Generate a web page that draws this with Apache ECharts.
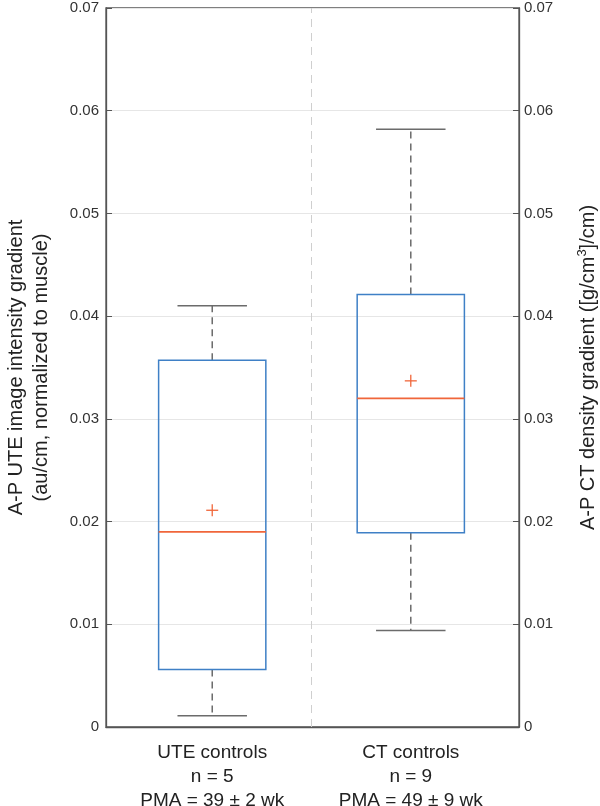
<!DOCTYPE html>
<html>
<head>
<meta charset="utf-8">
<script src="https://cdn.jsdelivr.net/npm/echarts@6/dist/echarts.min.js"></script>
<style>
    html, body { margin: 0; padding: 0; background: #fff; }
    #chart { width: 600px; height: 806px; }
</style>
</head>
<body>
<div id="chart"></div>
<script>
// groups and box statistics
const categories = ['UTE controls\nn = 5\nPMA = 39 ± 2 wk', 'CT controls\nn = 9\nPMA = 49 ± 9 wk'];
const positions = [1, 2];
const whiskerLow = [0.0011, 0.0094];
const q1 = [0.0056, 0.0189];
const median = [0.0190, 0.0320];
const q3 = [0.0357, 0.0421];
const whiskerHigh = [0.0410, 0.0582];
const mean = [0.0211, 0.0337];

const FONT = '"Liberation Sans", Arial, sans-serif';
const BOX_COLOR = '#3f80c6';
const MED_COLOR = '#f0663a';
const WHISKER_COLOR = '#6b6b6b';

const boxData = positions.map((p, i) => [p, whiskerLow[i], q1[i], median[i], q3[i], whiskerHigh[i], mean[i]]);

function renderBox(params, api) {
    const p = api.value(0);
    const unit = api.size([1, 0])[0];
    const halfBox = unit * 0.27;
    const halfCap = unit * 0.175;
    const lo = api.coord([p, api.value(1)]);
    const b1 = api.coord([p, api.value(2)]);
    const md = api.coord([p, api.value(3)]);
    const b3 = api.coord([p, api.value(4)]);
    const hi = api.coord([p, api.value(5)]);
    const mn = api.coord([p, api.value(6)]);
    const cx = lo[0];
    const whiskerStyle = {stroke: WHISKER_COLOR, lineWidth: 1.5, lineDash: [7, 5]};
    const capStyle = {stroke: WHISKER_COLOR, lineWidth: 1.5};
    return {
        type: 'group',
        children: [
            {type: 'line', shape: {x1: cx, y1: b3[1], x2: cx, y2: hi[1]}, style: whiskerStyle},
            {type: 'line', shape: {x1: cx, y1: b1[1], x2: cx, y2: lo[1]}, style: whiskerStyle},
            {type: 'line', shape: {x1: cx - halfCap, y1: hi[1], x2: cx + halfCap, y2: hi[1]}, style: capStyle},
            {type: 'line', shape: {x1: cx - halfCap, y1: lo[1], x2: cx + halfCap, y2: lo[1]}, style: capStyle},
            {
                type: 'rect',
                shape: {x: cx - halfBox, y: b3[1], width: halfBox * 2, height: b1[1] - b3[1]},
                style: {fill: 'none', stroke: BOX_COLOR, lineWidth: 1.5},
            },
            {type: 'line', shape: {x1: cx - halfBox, y1: md[1], x2: cx + halfBox, y2: md[1]}, style: {stroke: MED_COLOR, lineWidth: 1.8}},
            {type: 'line', shape: {x1: cx - 6, y1: mn[1], x2: cx + 6, y2: mn[1]}, style: {stroke: MED_COLOR, lineWidth: 1.3}},
            {type: 'line', shape: {x1: cx, y1: mn[1] - 6, x2: cx, y2: mn[1] + 6}, style: {stroke: MED_COLOR, lineWidth: 1.3}},
        ],
    };
}

const yCommon = {
    type: 'value',
    min: 0,
    max: 0.07,
    interval: 0.01,
    nameLocation: 'middle',
    nameRotate: 90,
    axisLine: {show: true, lineStyle: {color: '#555', width: 1.3}},
    axisTick: {show: true, inside: true, length: 6, lineStyle: {color: '#555'}},
    axisLabel: {
        color: '#333',
        fontSize: 15,
        fontFamily: FONT,
        formatter: v => (v === 0 ? '0' : v.toFixed(2)),
    },
};

const chart = echarts.init(document.getElementById('chart'));
chart.setOption({
    animation: false,
    grid: {
        left: 106, right: 81, top: 8, bottom: 79,
        outerBoundsMode: 'none',
        containLabel: false,
        show: true, borderColor: '#555', borderWidth: 1.3,
    },
    xAxis: {
        type: 'value',
        min: 0.465,
        max: 2.545,
        axisLine: {onZero: false, lineStyle: {color: '#555', width: 1.3}},
        axisTick: {show: false},
        splitLine: {show: false},
        axisLabel: {
            customValues: positions,
            color: '#222', fontSize: 19, fontFamily: FONT, lineHeight: 24, margin: 14,
            formatter: v => categories[positions.indexOf(v)] || '',
        },
    },
    yAxis: [
        Object.assign({}, yCommon, {
            position: 'left',
            name: 'A-P UTE image intensity gradient\n(au/cm, normalized to muscle)',
            nameGap: 52,
            nameTextStyle: {color: '#222', fontSize: 20, fontFamily: FONT, lineHeight: 25},
            axisLabel: Object.assign({}, yCommon.axisLabel, {margin: 7}),
            splitLine: {show: true, lineStyle: {color: '#e6e6e6', width: 1}},
        }),
        Object.assign({}, yCommon, {
            position: 'right',
            name: 'A-P CT density gradient ([g/cm{sup|3}]/cm)',
            nameGap: 57,
            nameTextStyle: {
                color: '#222', fontSize: 20, fontFamily: FONT, lineHeight: 24,
                rich: {sup: {fontSize: 13, fontFamily: FONT, verticalAlign: 'top', lineHeight: 24, color: '#222'}},
            },
            axisLabel: Object.assign({}, yCommon.axisLabel, {margin: 5}),
            splitLine: {show: false},
        }),
    ],
    series: [{
        type: 'custom',
        renderItem: renderBox,
        encode: {x: 0, y: [1, 2, 3, 4, 5, 6]},
        data: boxData,
        z: 5,
        markLine: {
            silent: true,
            symbol: 'none',
            label: {show: false},
            lineStyle: {color: '#cfcfcf', type: [8, 6], width: 1},
            data: [{xAxis: 1.5}],
        },
    }],
});
</script>
</body>
</html>
